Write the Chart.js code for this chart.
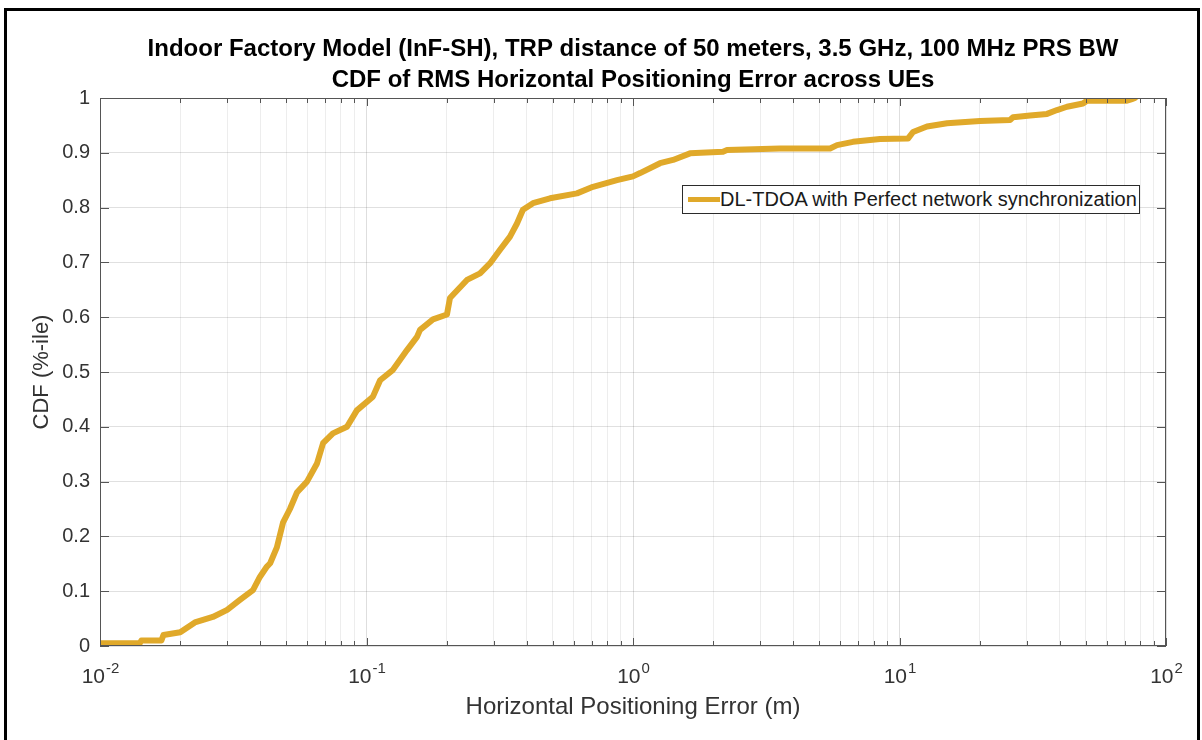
<!DOCTYPE html>
<html>
<head>
<meta charset="utf-8">
<script src="https://cdn.jsdelivr.net/npm/chart.js@4.4.1/dist/chart.umd.min.js"></script>
<style>
	body { margin: 0; background: #fff; }
	#wrap { position: relative; width: 1202px; height: 740px; overflow: hidden; background: #fff; }
	#chart { position: absolute; left: 0; top: 0; }
	#frame { position: absolute; left: 4px; top: 8px; width: 1196px; height: 760px; border: 3px solid #000; box-sizing: border-box; pointer-events: none; }
	#legend { position: absolute; left: 682px; top: 185px; width: 458px; height: 29px; box-sizing: border-box; border: 1px solid #2b2b2b; background: #fff;
		font: 20px 'Liberation Sans', Arial, sans-serif; color: #1a1a1a; line-height: 27px; white-space: nowrap; }
	#legend .swatch { position: absolute; left: 5px; top: 11px; width: 32px; height: 5px; }
	#legend .text { position: absolute; left: 37px; top: 0; }
</style>
</head>
<body>
<div id="wrap">
	<canvas id="chart" width="1202" height="740"></canvas>
	<div id="legend"><span class="swatch"></span><span class="text"></span></div>
	<div id="frame"></div>
</div>
<script>
const errorValues = [0.0100, 0.0141, 0.0143, 0.0170, 0.0173, 0.0200, 0.0227, 0.0265, 0.0300, 0.0335, 0.0375, 0.0398, 0.0423, 0.0435, 0.0461, 0.0486, 0.0516, 0.0548, 0.0598, 0.0652, 0.0687, 0.0748, 0.0845, 0.0920, 0.1057, 0.1125, 0.1257, 0.1419, 0.1547, 0.1588, 0.1776, 0.2004, 0.2057, 0.2382, 0.2667, 0.2905, 0.3170, 0.3455, 0.3670, 0.3864, 0.4214, 0.4883, 0.6164, 0.7078, 0.871, 1.000, 1.063, 1.263, 1.413, 1.637, 2.176, 2.253, 3.562, 5.49, 5.83, 6.69, 8.45, 10.76, 11.24, 12.68, 15.08, 20.05, 25.98, 26.67, 30.89, 35.77, 39.0, 42.5, 48.8, 50.5, 71.4, 74.5, 76.5]
const cdfValues = [0.005, 0.005, 0.010, 0.010, 0.020, 0.025, 0.043, 0.053, 0.066, 0.084, 0.102, 0.126, 0.145, 0.151, 0.180, 0.225, 0.250, 0.280, 0.300, 0.333, 0.370, 0.388, 0.400, 0.430, 0.455, 0.485, 0.504, 0.540, 0.564, 0.577, 0.596, 0.605, 0.635, 0.668, 0.680, 0.698, 0.723, 0.747, 0.771, 0.796, 0.808, 0.817, 0.826, 0.838, 0.850, 0.857, 0.863, 0.881, 0.887, 0.899, 0.902, 0.905, 0.908, 0.908, 0.914, 0.920, 0.925, 0.926, 0.938, 0.948, 0.954, 0.958, 0.960, 0.965, 0.968, 0.971, 0.978, 0.984, 0.990, 0.995, 0.995, 0.998, 1.000]

const xTickValues = [0.01, 0.1, 1, 10, 100]
const xTickBase = '10'
const xTickExponents = ['-2', '-1', '0', '1', '2']
const seriesName = 'DL-TDOA with Perfect network synchronization'
const titleLines = ['Indoor Factory Model (InF-SH), TRP distance of 50 meters, 3.5 GHz, 100 MHz PRS BW', 'CDF of RMS Horizontal Positioning Error across UEs']
const lineColor = '#E0A92A'
const FONT = "'Liberation Sans', Arial, sans-serif"

// log grid: 1..9 in every decade
const logTicks = []
for (let e = -2; e < 2; e++) {
	for (let m = 1; m < 10; m++) logTicks.push(+(m * Math.pow(10, e)).toPrecision(6))
}
logTicks.push(100)

const isMajor = v => xTickValues.some(t => Math.abs(t - v) / t < 1e-6)

document.querySelector('#legend .swatch').style.background = lineColor
document.querySelector('#legend .text').textContent = seriesName

// matlab-style box with inward ticks + 10^n labels
const axesBox = {
	id: 'axesBox',
	afterDraw(chart) {
		const { ctx, chartArea: a, scales } = chart
		ctx.save()
		ctx.strokeStyle = '#555'
		ctx.lineWidth = 1
		ctx.strokeRect(a.left + 0.5, a.top + 0.5, a.right - a.left - 1, a.bottom - a.top - 1)
		ctx.beginPath()
		scales.x.ticks.forEach(t => {
			const px = Math.round(scales.x.getPixelForValue(t.value)) + 0.5
			const len = isMajor(t.value) ? 8 : 5
			ctx.moveTo(px, a.bottom)
			ctx.lineTo(px, a.bottom - len)
			ctx.moveTo(px, a.top)
			ctx.lineTo(px, a.top + len)
		})
		scales.y.ticks.forEach(t => {
			const py = Math.round(scales.y.getPixelForValue(t.value)) + 0.5
			ctx.moveTo(a.left, py)
			ctx.lineTo(a.left + 9, py)
			ctx.moveTo(a.right, py)
			ctx.lineTo(a.right - 9, py)
		})
		ctx.stroke()

		// tick labels with raised exponent
		ctx.fillStyle = '#333'
		ctx.textBaseline = 'alphabetic'
		ctx.textAlign = 'left'
		xTickValues.forEach((v, i) => {
			const px = scales.x.getPixelForValue(v)
			ctx.font = '21px ' + FONT
			const wBase = ctx.measureText(xTickBase).width
			ctx.font = '15px ' + FONT
			const wExp = ctx.measureText(xTickExponents[i]).width
			const x0 = px - (wBase + wExp) / 2
			ctx.font = '21px ' + FONT
			ctx.fillText(xTickBase, x0, a.bottom + 37)
			ctx.font = '15px ' + FONT
			ctx.fillText(xTickExponents[i], x0 + wBase + 1, a.bottom + 27)
		})
		ctx.restore()
	},
}

const ctx = document.getElementById('chart').getContext('2d')
const myChart = new Chart(ctx, {
	type: 'line',
	data: {
		datasets: [
			{
				label: seriesName,
				data: errorValues.map((x, i) => ({ x: x, y: cdfValues[i] })),
				borderColor: lineColor,
				backgroundColor: lineColor,
				borderWidth: 6,
				pointRadius: 0,
				tension: 0,
				borderJoinStyle: 'round',
				borderCapStyle: 'round',
			},
		],
	},
	options: {
		responsive: false,
		animation: false,
		layout: {
			padding: { left: 8, right: 36, top: 0, bottom: 0 },
		},
		plugins: {
			legend: { display: false },
			tooltip: { enabled: false },
			title: {
				display: true,
				fullSize: false,
				text: titleLines,
				color: '#000',
				font: { family: FONT, size: 24, weight: 'bold', lineHeight: '31px' },
				padding: { top: 34, bottom: 2 },
			},
		},
		scales: {
			x: {
				type: 'logarithmic',
				min: 0.01,
				max: 100,
				afterBuildTicks: scale => {
					scale.ticks = logTicks.map(v => ({ value: v }))
				},
				afterFit: scale => {
					scale.height = 94
				},
				ticks: {
					autoSkip: false,
					maxRotation: 0,
					callback: () => '',
				},
				grid: {
					drawTicks: false,
					color: c => (isMajor(c.tick.value) ? 'rgba(0,0,0,0.13)' : 'rgba(0,0,0,0.07)'),
				},
				border: { display: false },
				title: {
					display: true,
					text: 'Horizontal Positioning Error (m)',
					color: '#333',
					font: { family: FONT, size: 24 },
					padding: { top: 0, bottom: 18 },
				},
			},
			y: {
				min: 0,
				max: 1,
				afterFit: scale => {
					scale.width = 92
				},
				ticks: {
					stepSize: 0.1,
					padding: 10,
					color: '#333',
					font: { family: FONT, size: 20 },
					callback: v => String(+v.toFixed(1)),
				},
				grid: {
					drawTicks: false,
					color: 'rgba(0,0,0,0.12)',
				},
				border: { display: false },
				title: {
					display: true,
					text: 'CDF (%-ile)',
					color: '#333',
					font: { family: FONT, size: 22 },
					padding: { top: 21, bottom: 0 },
				},
			},
		},
	},
	plugins: [axesBox],
})
</script>
</body>
</html>
